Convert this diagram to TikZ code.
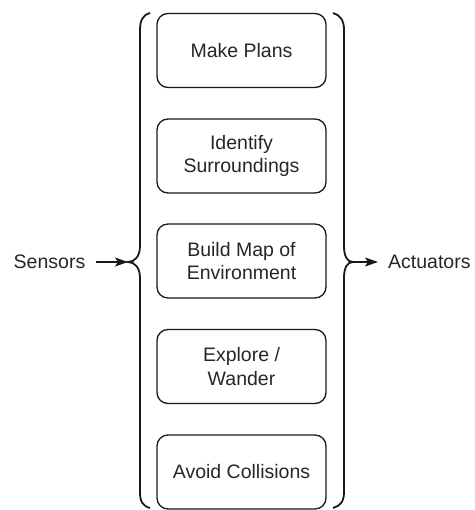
\documentclass[tikz,border=0pt]{standalone}
\usepackage{fontspec}
\setmainfont{Liberation Sans}
\usetikzlibrary{arrows.meta}
\begin{document}
\begin{tikzpicture}[x=1pt,y=-1pt,
  layerbox/.style={draw=black!90, line width=1.3pt, rounded corners=11pt,
    minimum width=169pt, minimum height=74pt, align=center, inner sep=0pt,
    font=\fontsize{19.5}{23.5}\selectfont, text=black!85},
  label/.style={font=\fontsize{19.5}{23.5}\selectfont, text=black!85, inner sep=0pt},
  brace/.style={draw=black!90, line width=1.8pt},
  arr/.style={draw=black!90, line width=1.6pt, -{Stealth[length=13pt,width=9pt,inset=3pt]}}]
\useasboundingbox (0,0) rectangle (474,510);

\node[layerbox] (b1) at (241.5,50.5) {Make Plans};
\node[layerbox] (b2) at (241.5,156) {Identify\\Surroundings};
\node[layerbox] (b3) at (241.5,261) {Build Map of\\Environment};
\node[layerbox] (b4) at (241.5,366.5) {Explore /\\Wander};
\node[layerbox] (b5) at (241.5,472) {Avoid Collisions};

\node[label] (sensors) at (49.5,262) {Sensors};
\node[label, anchor=west] (actuators) at (388,262) {Actuators};

\coordinate (ltip) at (128,262);
\coordinate (rtip) at (353,262);

% left brace
\draw[brace] (150,13) .. controls (143,15) and (140,20) .. (140,30)
  -- (140,246) .. controls (140,256) and (135,262) .. (ltip)
  .. controls (135,262) and (140,268) .. (140,278)
  -- (140,492) .. controls (140,502) and (143,506) .. (150,508);
% right brace
\draw[brace] (333,13) .. controls (340,15) and (344,20) .. (344,30)
  -- (344,246) .. controls (344,256) and (347,262) .. (rtip)
  .. controls (347,262) and (344,268) .. (344,278)
  -- (344,492) .. controls (344,502) and (340,506) .. (333,508);

\draw[arr] ([xshift=11pt]sensors.east) -- (ltip);
\draw[arr] (rtip) -- ([xshift=-10pt]actuators.west);
\end{tikzpicture}
\end{document}
